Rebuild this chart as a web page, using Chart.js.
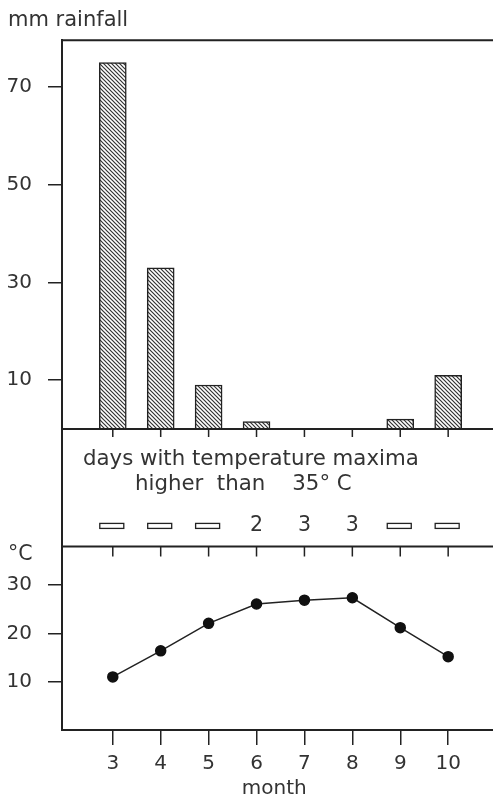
<!DOCTYPE html>
<html>
<head>
  <title>rainfall and temperature</title>
  <style>
    body { margin: 0; background: #fff; }
    #wrap { width: 493px; height: 801px; }
  </style>
  <script src="https://cdn.jsdelivr.net/npm/chart.js"></script>
</head>
<body>
  <div id="wrap"><canvas id="chart"></canvas></div>
  <script>
    // data
    var months = [3, 4, 5, 6, 7, 8, 9, 10];
    var rainfall = [75, 33, 9, 1.5, 0, 0, 2, 11];                       // mm
    var temperature = [11, 16.4, 22.1, 26.1, 26.9, 27.4, 21.2, 15.2];   // °C
    var hotDays = [null, null, null, 2, 3, 3, null, null];              // days > 35 °C (null = none)
    var rainTicks = [10, 30, 50, 70];
    var tempTicks = [10, 20, 30];

    var ink = '#222';
    var textInk = '#333';
    var fam = '"DejaVu Sans", sans-serif';
    var wt = 'normal';

    // diagonal hatching for the rain bars
    function hatch() {
      var c = document.createElement('canvas');
      c.width = 4; c.height = 4;
      var g = c.getContext('2d');
      g.fillStyle = '#fff';
      g.fillRect(0, 0, 4, 4);
      g.strokeStyle = '#333';
      g.lineWidth = 1.2;
      g.beginPath();
      g.moveTo(-1, -1); g.lineTo(5, 5);
      g.moveTo(-1, 3); g.lineTo(1, 5);
      g.moveTo(3, -1); g.lineTo(5, 1);
      g.stroke();
      return g.createPattern(c, 'repeat');
    }

    function fixWidth(w) {
      return function (s) { s.width = w; };
    }

    // frame lines, inner ticks and the middle panel text
    var overlay = {
      id: 'overlay',
      afterDraw: function (chart) {
        var ctx = chart.ctx;
        var a = chart.chartArea;
        var x = chart.scales.x;
        var rain = chart.scales.yRain;
        var mid = chart.scales.yMid;
        var temp = chart.scales.yTemp;
        ctx.save();
        ctx.strokeStyle = ink;
        ctx.lineWidth = 2;
        ctx.beginPath();
        [a.top, rain.bottom, mid.bottom, a.bottom].forEach(function (y) {
          ctx.moveTo(a.left, y); ctx.lineTo(chart.width, y);
        });
        ctx.stroke();

        ctx.lineWidth = 1.5;
        ctx.beginPath();
        months.forEach(function (m) {
          var px = x.getPixelForValue(m);
          ctx.moveTo(px, rain.bottom); ctx.lineTo(px, rain.bottom + 8);
          ctx.moveTo(px, mid.bottom); ctx.lineTo(px, mid.bottom + 10);
        });
        ctx.stroke();

        ctx.fillStyle = textInk;
        ctx.font = wt + ' 21.3px ' + fam;
        ctx.textBaseline = 'alphabetic';
        ctx.textAlign = 'left';
        ctx.fillText('days with temperature maxima', a.left + 21, mid.top + 36);
        ctx.fillText('higher  than    35\u00b0 C', a.left + 73, mid.top + 61);

        var rowY = mid.getPixelForValue(0.18);
        ctx.font = wt + ' 20.5px ' + fam;
        ctx.textAlign = 'center';
        ctx.textBaseline = 'middle';
        ctx.lineWidth = 1.3;
        hotDays.forEach(function (d, i) {
          var px = x.getPixelForValue(months[i]);
          if (d === null) {
            ctx.strokeRect(px - 13, rowY - 2, 24, 5);
          } else {
            ctx.fillText(String(d), px, rowY);
          }
        });

        ctx.textAlign = 'left';
        ctx.fillText('\u00b0C', 8, temp.top + 8);
        ctx.restore();
      }
    };

    var tickFont = { family: fam, size: 20, weight: wt };

    new Chart(document.getElementById('chart'), {
      data: {
        datasets: [{
          type: 'bar',
          label: 'rainfall',
          data: months.map(function (m, i) { return { x: m, y: rainfall[i] }; }),
          xAxisID: 'x',
          yAxisID: 'yRain',
          backgroundColor: hatch(),
          borderColor: ink,
          borderWidth: 1.5,
          barThickness: 27
        }, {
          type: 'line',
          label: 'temperature',
          data: months.map(function (m, i) { return { x: m, y: temperature[i] }; }),
          xAxisID: 'x',
          yAxisID: 'yTemp',
          borderColor: ink,
          borderWidth: 1.5,
          pointRadius: 5,
          pointBackgroundColor: '#111',
          pointBorderColor: '#111',
          tension: 0
        }]
      },
      options: {
        responsive: true,
        maintainAspectRatio: false,
        animation: false,
        layout: { padding: { left: 8, right: 0, top: 0, bottom: 0 } },
        plugins: {
          legend: { display: false },
          tooltip: { enabled: false },
          title: {
            display: true,
            text: 'mm rainfall',
            align: 'start',
            color: textInk,
            font: { family: fam, size: 21, weight: wt },
            padding: { top: 8, bottom: 7 }
          }
        },
        scales: {
          x: {
            type: 'linear',
            min: 1.94,
            max: 10.8,
            offset: false,
            afterBuildTicks: function (s) { s.ticks = months.map(function (v) { return { value: v }; }); },
            grid: { offset: false, drawOnChartArea: false, drawTicks: true, tickLength: 15, tickColor: ink, lineWidth: 1.5 },
            border: { color: ink, width: 2 },
            ticks: { color: textInk, font: tickFont, padding: 7 },
            title: { display: true, text: 'month', color: textInk, font: tickFont, padding: { top: -6, bottom: 0 } }
          },
          yTemp: {
            type: 'linear',
            position: 'left',
            stack: 'panels',
            stackWeight: 184,
            min: 0,
            max: 38,
            afterBuildTicks: function (s) { s.ticks = tempTicks.map(function (v) { return { value: v }; }); },
            afterFit: fixWidth(54),
            grid: { drawOnChartArea: false, drawTicks: true, tickLength: 14, tickColor: ink, lineWidth: 1.5 },
            border: { color: ink, width: 2 },
            ticks: { color: textInk, font: tickFont, padding: 16 }
          },
          yMid: {
            type: 'linear',
            position: 'left',
            stack: 'panels',
            stackWeight: 118,
            min: 0,
            max: 1,
            afterFit: fixWidth(54),
            grid: { display: false },
            border: { color: ink, width: 2 },
            ticks: { display: false }
          },
          yRain: {
            type: 'linear',
            position: 'left',
            stack: 'panels',
            stackWeight: 390,
            min: 0,
            max: 79.6,
            afterBuildTicks: function (s) { s.ticks = rainTicks.map(function (v) { return { value: v }; }); },
            afterFit: fixWidth(54),
            grid: { drawOnChartArea: false, drawTicks: true, tickLength: 14, tickColor: ink, lineWidth: 1.5 },
            border: { color: ink, width: 2 },
            ticks: { color: textInk, font: tickFont, padding: 16 }
          }
        }
      },
      plugins: [overlay]
    });
  </script>
</body>
</html>
